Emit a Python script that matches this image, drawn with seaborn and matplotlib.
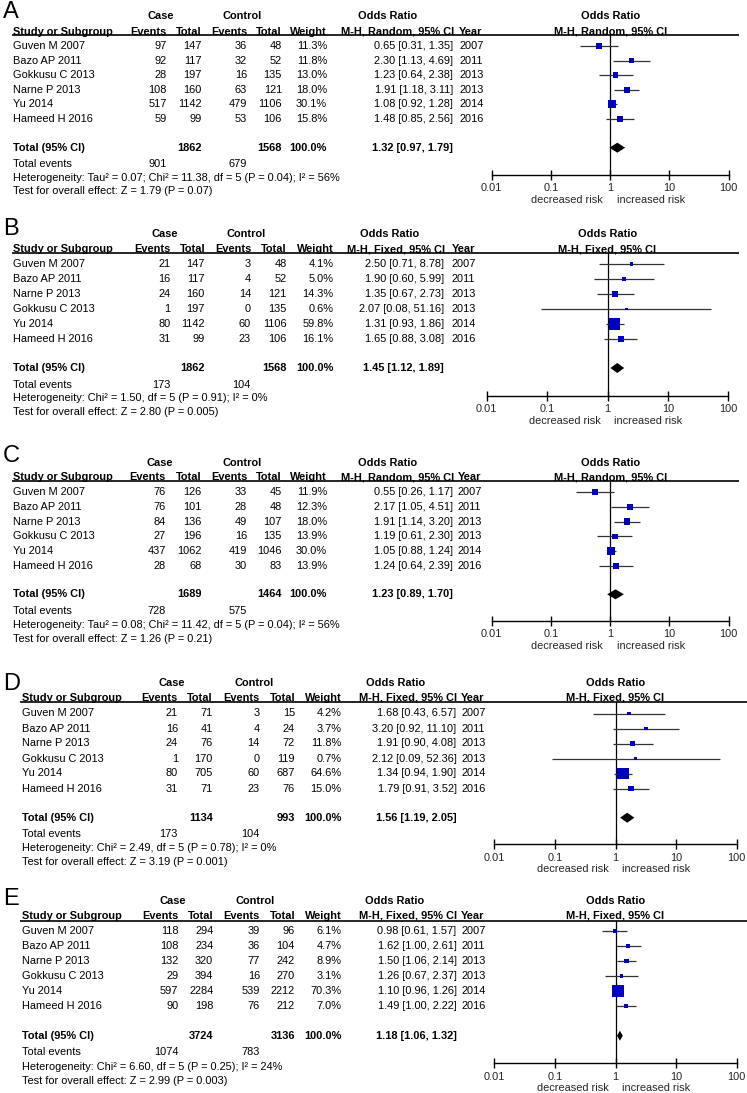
import matplotlib
matplotlib.use("Agg")
import matplotlib.pyplot as plt
from matplotlib.ticker import NullLocator
import pandas as pd
import seaborn as sns

# ------------------------------------------------------------------ data
# Panel A (random effects)
A_study = ["Guven M 2007", "Bazo AP 2011", "Gokkusu C 2013", "Narne P 2013", "Yu 2014", "Hameed H 2016"]
A_case_events = [97, 92, 28, 108, 517, 59]
A_case_total = [147, 117, 197, 160, 1142, 99]
A_ctrl_events = [36, 32, 16, 63, 479, 53]
A_ctrl_total = [48, 52, 135, 121, 1106, 106]
A_weight = [11.3, 11.8, 13.0, 18.0, 30.1, 15.8]
A_or = [0.65, 2.30, 1.23, 1.91, 1.08, 1.48]
A_lo = [0.31, 1.13, 0.64, 1.18, 0.92, 0.85]
A_hi = [1.35, 4.69, 2.38, 3.11, 1.28, 2.56]
A_year = [2007, 2011, 2013, 2013, 2014, 2016]
A_totals = [1862, 1568]
A_total_events = [901, 679]
A_pooled = [1.32, 0.97, 1.79]
A_method = "M-H, Random, 95% CI"
A_het = "Heterogeneity: Tau² = 0.07; Chi² = 11.38, df = 5 (P = 0.04); I² = 56%"
A_test = "Test for overall effect: Z = 1.79 (P = 0.07)"

# Panel B (fixed effects)
B_study = ["Guven M 2007", "Bazo AP 2011", "Narne P 2013", "Gokkusu C 2013", "Yu 2014", "Hameed H 2016"]
B_case_events = [21, 16, 24, 1, 80, 31]
B_case_total = [147, 117, 160, 197, 1142, 99]
B_ctrl_events = [3, 4, 14, 0, 60, 23]
B_ctrl_total = [48, 52, 121, 135, 1106, 106]
B_weight = [4.1, 5.0, 14.3, 0.6, 59.8, 16.1]
B_or = [2.50, 1.90, 1.35, 2.07, 1.31, 1.65]
B_lo = [0.71, 0.60, 0.67, 0.08, 0.93, 0.88]
B_hi = [8.78, 5.99, 2.73, 51.16, 1.86, 3.08]
B_year = [2007, 2011, 2013, 2013, 2014, 2016]
B_totals = [1862, 1568]
B_total_events = [173, 104]
B_pooled = [1.45, 1.12, 1.89]
B_method = "M-H, Fixed, 95% CI"
B_het = "Heterogeneity: Chi² = 1.50, df = 5 (P = 0.91); I² = 0%"
B_test = "Test for overall effect: Z = 2.80 (P = 0.005)"

# Panel C (random effects)
C_study = ["Guven M 2007", "Bazo AP 2011", "Narne P 2013", "Gokkusu C 2013", "Yu 2014", "Hameed H 2016"]
C_case_events = [76, 76, 84, 27, 437, 28]
C_case_total = [126, 101, 136, 196, 1062, 68]
C_ctrl_events = [33, 28, 49, 16, 419, 30]
C_ctrl_total = [45, 48, 107, 135, 1046, 83]
C_weight = [11.9, 12.3, 18.0, 13.9, 30.0, 13.9]
C_or = [0.55, 2.17, 1.91, 1.19, 1.05, 1.24]
C_lo = [0.26, 1.05, 1.14, 0.61, 0.88, 0.64]
C_hi = [1.17, 4.51, 3.20, 2.30, 1.24, 2.39]
C_year = [2007, 2011, 2013, 2013, 2014, 2016]
C_totals = [1689, 1464]
C_total_events = [728, 575]
C_pooled = [1.23, 0.89, 1.70]
C_method = "M-H, Random, 95% CI"
C_het = "Heterogeneity: Tau² = 0.08; Chi² = 11.42, df = 5 (P = 0.04); I² = 56%"
C_test = "Test for overall effect: Z = 1.26 (P = 0.21)"

# Panel D (fixed effects)
D_study = ["Guven M 2007", "Bazo AP 2011", "Narne P 2013", "Gokkusu C 2013", "Yu 2014", "Hameed H 2016"]
D_case_events = [21, 16, 24, 1, 80, 31]
D_case_total = [71, 41, 76, 170, 705, 71]
D_ctrl_events = [3, 4, 14, 0, 60, 23]
D_ctrl_total = [15, 24, 72, 119, 687, 76]
D_weight = [4.2, 3.7, 11.8, 0.7, 64.6, 15.0]
D_or = [1.68, 3.20, 1.91, 2.12, 1.34, 1.79]
D_lo = [0.43, 0.92, 0.90, 0.09, 0.94, 0.91]
D_hi = [6.57, 11.10, 4.08, 52.36, 1.90, 3.52]
D_year = [2007, 2011, 2013, 2013, 2014, 2016]
D_totals = [1134, 993]
D_total_events = [173, 104]
D_pooled = [1.56, 1.19, 2.05]
D_method = "M-H, Fixed, 95% CI"
D_het = "Heterogeneity: Chi² = 2.49, df = 5 (P = 0.78); I² = 0%"
D_test = "Test for overall effect: Z = 3.19 (P = 0.001)"

# Panel E (fixed effects)
E_study = ["Guven M 2007", "Bazo AP 2011", "Narne P 2013", "Gokkusu C 2013", "Yu 2014", "Hameed H 2016"]
E_case_events = [118, 108, 132, 29, 597, 90]
E_case_total = [294, 234, 320, 394, 2284, 198]
E_ctrl_events = [39, 36, 77, 16, 539, 76]
E_ctrl_total = [96, 104, 242, 270, 2212, 212]
E_weight = [6.1, 4.7, 8.9, 3.1, 70.3, 7.0]
E_or = [0.98, 1.62, 1.50, 1.26, 1.10, 1.49]
E_lo = [0.61, 1.00, 1.06, 0.67, 0.96, 1.00]
E_hi = [1.57, 2.61, 2.14, 2.37, 1.26, 2.22]
E_year = [2007, 2011, 2013, 2013, 2014, 2016]
E_totals = [3724, 3136]
E_total_events = [1074, 783]
E_pooled = [1.18, 1.06, 1.32]
E_method = "M-H, Fixed, 95% CI"
E_het = "Heterogeneity: Chi² = 6.60, df = 5 (P = 0.25); I² = 24%"
E_test = "Test for overall effect: Z = 2.99 (P = 0.003)"

TOTAL_WEIGHT = 100.0
AXIS_TICKS = [0.01, 0.1, 1, 10, 100]
AXIS_TICKLABELS = ["0.01", "0.1", "1", "10", "100"]

# ------------------------------------------------------------------ layout (pixels)
W, H = 747, 1093
LAYOUT = {
    "A": dict(label_y=18, case_y=16, head_y=32, line_y=34.5, row0=46, dy=14.6, total_y=147.7,
              events_y=164, het_y=177.7, test_y=190.7, axis_y=175,
              study_x=13, line_x0=12, line_x1=739, ev1=166.5, tot1=202, ev2=247, tot2=282,
              w=327, ci=453, yr=459, or_c=387.5, xl=491.7, xr=728.7),
    "B": dict(label_y=235, case_y=234, head_y=249, line_y=253.3, row0=264, dy=15, total_y=368,
              events_y=385, het_y=398, test_y=412, axis_y=395.7,
              study_x=13, line_x0=12, line_x1=739, ev1=170.5, tot1=205, ev2=251, tot2=286.7,
              w=333.5, ci=444, yr=452, or_c=389.7, xl=486.7, xr=728.3),
    "C": dict(label_y=462, case_y=462.7, head_y=477, line_y=481, row0=492, dy=14.8, total_y=594.3,
              events_y=610.7, het_y=625, test_y=639, axis_y=621,
              study_x=13, line_x0=12, line_x1=739, ev1=166, tot1=201.5, ev2=247, tot2=281.5,
              w=327, ci=453, yr=458, or_c=387.5, xl=491.7, xr=728.7),
    "D": dict(label_y=690, case_y=682.7, head_y=697.7, line_y=702.3, row0=713.5, dy=15, total_y=817.7,
              events_y=834.3, het_y=848.3, test_y=862.3, axis_y=844.3,
              study_x=21.7, line_x0=20, line_x1=747, ev1=178, tot1=212.7, ev2=259.5, tot2=295,
              w=341.7, ci=456.5, yr=461, or_c=396, xl=494.3, xr=736.7),
    "E": dict(label_y=905, case_y=900.7, head_y=915.7, line_y=920.7, row0=931, dy=15, total_y=1035.7,
              events_y=1052.3, het_y=1066.7, test_y=1080.7, axis_y=1063.3,
              study_x=21.7, line_x0=20, line_x1=747, ev1=178.3, tot1=213.3, ev2=260, tot2=295,
              w=341.7, ci=456.5, yr=461, or_c=395, xl=494.3, xr=736.7),
}

PANELS = {
    "A": (A_study, A_case_events, A_case_total, A_ctrl_events, A_ctrl_total, A_weight, A_or, A_lo, A_hi,
          A_year, A_totals, A_total_events, A_pooled, A_method, A_het, A_test),
    "B": (B_study, B_case_events, B_case_total, B_ctrl_events, B_ctrl_total, B_weight, B_or, B_lo, B_hi,
          B_year, B_totals, B_total_events, B_pooled, B_method, B_het, B_test),
    "C": (C_study, C_case_events, C_case_total, C_ctrl_events, C_ctrl_total, C_weight, C_or, C_lo, C_hi,
          C_year, C_totals, C_total_events, C_pooled, C_method, C_het, C_test),
    "D": (D_study, D_case_events, D_case_total, D_ctrl_events, D_ctrl_total, D_weight, D_or, D_lo, D_hi,
          D_year, D_totals, D_total_events, D_pooled, D_method, D_het, D_test),
    "E": (E_study, E_case_events, E_case_total, E_ctrl_events, E_ctrl_total, E_weight, E_or, E_lo, E_hi,
          E_year, E_totals, E_total_events, E_pooled, E_method, E_het, E_test),
}

# ------------------------------------------------------------------ style
sns.set_style("white")
plt.rcParams["font.family"] = ["Liberation Sans", "DejaVu Sans"]
FS = 7.9
BLUE = "#0000C0"
LINE = "#333333"

fig = plt.figure(figsize=(W / 100, H / 100), dpi=100)
fig.patch.set_facecolor("white")
tab = fig.add_axes([0, 0, 1, 1])
tab.set_xlim(0, W)
tab.set_ylim(H, 0)
tab.axis("off")


def txt(x, y, s, ha="left", bold=False, size=FS, va="center"):
    tab.text(x, y, s, ha=ha, va=va, fontsize=size,
             fontweight="bold" if bold else "normal", color="black")


for key, L in LAYOUT.items():
    (study, ce, ct, ke, kt, wt, orr, lo, hi, yr, totals, tev, pooled, method, het, test) = PANELS[key]

    # panel letter
    txt(3, L["label_y"], key, size=17, va="baseline")

    # header rows
    txt(L["ev1"] - 6, L["case_y"], "Case", ha="center", bold=True)
    txt(L["ev2"] - 5, L["case_y"], "Control", ha="center", bold=True)
    txt(L["or_c"], L["case_y"], "Odds Ratio", ha="center", bold=True)
    txt((L["xl"] + L["xr"]) / 2, L["case_y"], "Odds Ratio", ha="center", bold=True)

    hy = L["head_y"]
    txt(L["study_x"], hy, "Study or Subgroup", bold=True)
    txt(L["ev1"], hy, "Events", ha="right", bold=True)
    txt(L["tot1"], hy, "Total", ha="right", bold=True)
    txt(L["ev2"], hy, "Events", ha="right", bold=True)
    txt(L["tot2"], hy, "Total", ha="right", bold=True)
    txt(L["w"], hy, "Weight", ha="right", bold=True)
    txt(L["ci"] + 1, hy, method, ha="right", bold=True)
    txt(L["yr"], hy, "Year", bold=True)
    txt((L["xl"] + L["xr"]) / 2, hy, method, ha="center", bold=True)
    tab.plot([L["line_x0"], L["line_x1"]], [L["line_y"], L["line_y"]], color="black", lw=1.2,
             solid_capstyle="butt")

    # study rows
    ys = [L["row0"] + i * L["dy"] for i in range(len(study))]
    for i, y in enumerate(ys):
        txt(L["study_x"], y, study[i])
        txt(L["ev1"], y, f"{ce[i]}", ha="right")
        txt(L["tot1"], y, f"{ct[i]}", ha="right")
        txt(L["ev2"], y, f"{ke[i]}", ha="right")
        txt(L["tot2"], y, f"{kt[i]}", ha="right")
        txt(L["w"], y, f"{wt[i]:.1f}%", ha="right")
        txt(L["ci"], y, f"{orr[i]:.2f} [{lo[i]:.2f}, {hi[i]:.2f}]", ha="right")
        txt(L["yr"], y, f"{yr[i]}")

    # totals
    ty = L["total_y"]
    txt(L["study_x"], ty, "Total (95% CI)", bold=True)
    txt(L["tot1"], ty, f"{totals[0]}", ha="right", bold=True)
    txt(L["tot2"], ty, f"{totals[1]}", ha="right", bold=True)
    txt(L["w"], ty, f"{TOTAL_WEIGHT:.1f}%", ha="right", bold=True)
    txt(L["ci"], ty, f"{pooled[0]:.2f} [{pooled[1]:.2f}, {pooled[2]:.2f}]", ha="right", bold=True)
    txt(L["study_x"], L["events_y"], "Total events")
    txt(L["ev1"], L["events_y"], f"{tev[0]}", ha="right")
    txt(L["ev2"], L["events_y"], f"{tev[1]}", ha="right")
    txt(L["study_x"], L["het_y"], het)
    txt(L["study_x"], L["test_y"], test)

    # forest axes
    ax = fig.add_axes([L["xl"] / W, 1 - L["axis_y"] / H,
                       (L["xr"] - L["xl"]) / W, (L["axis_y"] - L["line_y"]) / H])
    ax.set_facecolor("none")
    ax.set_xscale("log")
    ax.set_xlim(0.01, 100)
    ax.set_ylim(L["axis_y"], L["line_y"])

    df = pd.DataFrame({"or": orr, "lo": lo, "hi": hi, "weight": wt, "y": ys})
    ax.axvline(1, color="black", lw=0.9, zorder=1)
    ax.hlines(df["y"], df["lo"], df["hi"], color=LINE, lw=0.9, zorder=2)
    sns.scatterplot(data=df, x="or", y="y", size="weight", sizes=(3, 104), size_norm=(0, 100),
                    marker="s", color=BLUE, edgecolor=BLUE, linewidth=0, legend=False,
                    zorder=3, ax=ax)
    ax.fill([pooled[1], pooled[0], pooled[2], pooled[0]], [ty, ty - 5, ty, ty + 5],
            color="black", lw=0, zorder=4)

    ax.set_xticks(AXIS_TICKS)
    ax.set_xticklabels(AXIS_TICKLABELS)
    ax.xaxis.set_minor_locator(NullLocator())
    ax.set_yticks([])
    ax.set_xlabel("")
    ax.set_ylabel("")
    for s in ("top", "left", "right"):
        ax.spines[s].set_visible(False)
    ax.spines["bottom"].set_color("black")
    ax.spines["bottom"].set_linewidth(1.0)
    ax.tick_params(axis="x", direction="inout", length=7, width=1.0, color="black",
                   labelsize=FS, pad=2.5, bottom=True)
    ax.annotate("decreased risk", xy=(1, 0), xycoords=ax.get_xaxis_transform(),
                xytext=(-7, -25), textcoords="offset pixels", ha="right", va="center", fontsize=FS)
    ax.annotate("increased risk", xy=(1, 0), xycoords=ax.get_xaxis_transform(),
                xytext=(7, -25), textcoords="offset pixels", ha="left", va="center", fontsize=FS)

fig.savefig("out.png", dpi=100)
